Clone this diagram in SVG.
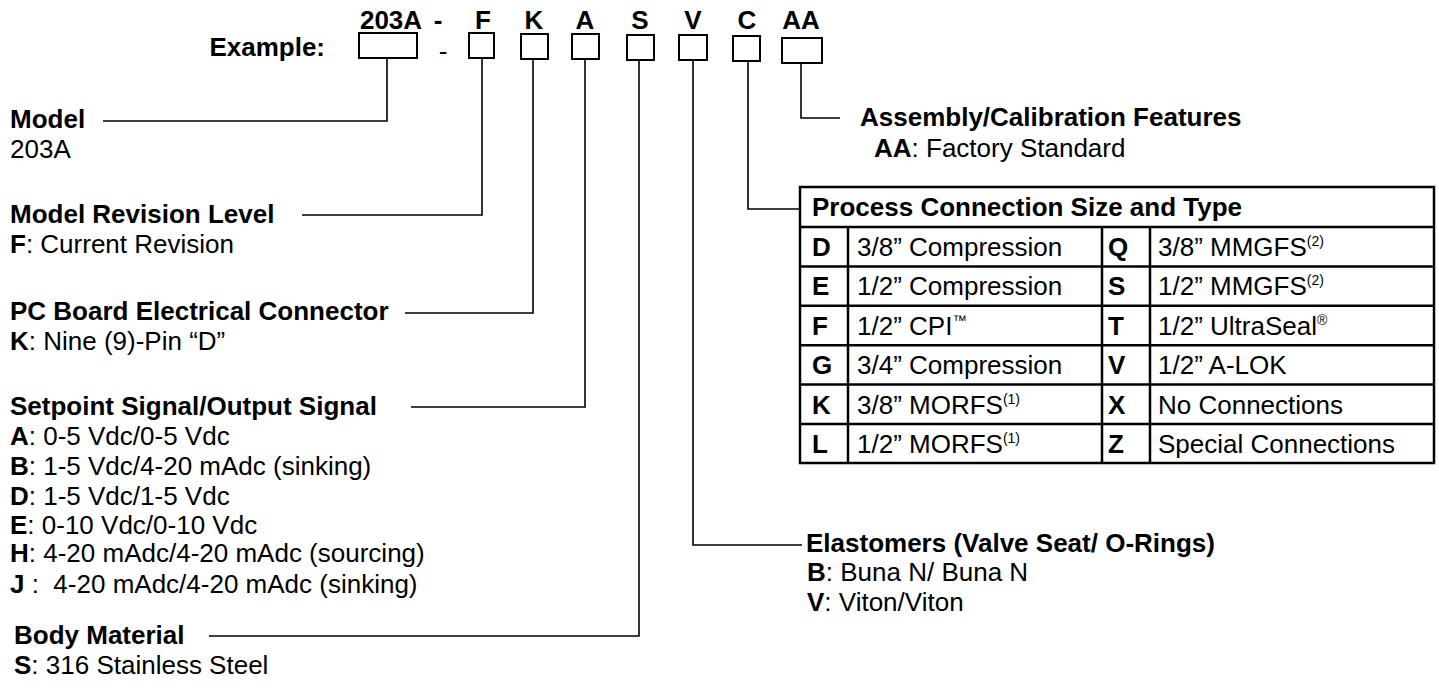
<svg xmlns="http://www.w3.org/2000/svg" width="1439" height="694" viewBox="0 0 1439 694">
<style>
text{font-family:"Liberation Sans",Arial,Helvetica,sans-serif;fill:#000;font-size:26px}
.h{font-weight:bold}
.b{font-weight:bold}
.bx{fill:#fff;stroke:#000;stroke-width:2}
.ln{fill:none;stroke:#000;stroke-width:1.6}
.tb{fill:none;stroke:#000;stroke-width:2.5}
.sup{font-size:14px}
</style>
<rect width="1439" height="694" fill="#fff"/>
<g id="header">
<text class="h" x="391" y="29" text-anchor="middle">203A</text>
<text class="h" x="438" y="29" text-anchor="middle">-</text>
<text class="h" x="483" y="29" text-anchor="middle">F</text>
<text class="h" x="534" y="29" text-anchor="middle">K</text>
<text class="h" x="585" y="29" text-anchor="middle">A</text>
<text class="h" x="640" y="29" text-anchor="middle">S</text>
<text class="h" x="693" y="29" text-anchor="middle">V</text>
<text class="h" x="747" y="29" text-anchor="middle">C</text>
<text class="h" x="801" y="29" text-anchor="middle">AA</text>
<text class="h" x="325" y="56" text-anchor="end">Example:</text>
<text x="443" y="60" text-anchor="middle">-</text>
<rect class="bx" x="359" y="33" width="58" height="25"/>
<rect class="bx" x="469" y="33" width="25" height="25"/>
<rect class="bx" x="521" y="34" width="27" height="25"/>
<rect class="bx" x="572" y="34" width="27" height="25"/>
<rect class="bx" x="627" y="35" width="27" height="25"/>
<rect class="bx" x="679" y="35" width="28" height="25"/>
<rect class="bx" x="733" y="36" width="27" height="25"/>
<rect class="bx" x="782" y="38" width="40" height="25"/>
</g>
<g id="connectors">
<polyline class="ln" points="103,121 387,121 387,58"/>
<polyline class="ln" points="302,215 482,215 482,58"/>
<polyline class="ln" points="405,313 533,313 533,59"/>
<polyline class="ln" points="411,407 585,407 585,59"/>
<polyline class="ln" points="209,636 639,636 639,60"/>
<polyline class="ln" points="693,60 693,545 802,545"/>
<polyline class="ln" points="748,61 748,209 799,209"/>
<polyline class="ln" points="801,63 801,118 840,118"/>
</g>
<g id="model">
<text class="b" x="10" y="128">Model</text>
<text x="10" y="158">203A</text>
</g>
<g id="revision">
<text class="b" x="10" y="223">Model Revision Level</text>
<text x="10" y="253"><tspan font-weight="bold">F</tspan>: Current Revision</text>
</g>
<g id="pcboard">
<text class="b" x="10" y="320">PC Board Electrical Connector</text>
<text x="10" y="350"><tspan font-weight="bold">K</tspan>: Nine (9)-Pin “D”</text>
</g>
<g id="signal">
<text class="b" x="10" y="415">Setpoint Signal/Output Signal</text>
<text x="10" y="445"><tspan font-weight="bold">A</tspan>: 0-5 Vdc/0-5 Vdc</text>
<text x="10" y="475"><tspan font-weight="bold">B</tspan>: 1-5 Vdc/4-20 mAdc (sinking)</text>
<text x="10" y="505"><tspan font-weight="bold">D</tspan>: 1-5 Vdc/1-5 Vdc</text>
<text x="10" y="534"><tspan font-weight="bold">E</tspan>: 0-10 Vdc/0-10 Vdc</text>
<text x="10" y="562"><tspan font-weight="bold">H</tspan>: 4-20 mAdc/4-20 mAdc (sourcing)</text>
<text x="10" y="593" xml:space="preserve"><tspan font-weight="bold">J</tspan> :  4-20 mAdc/4-20 mAdc (sinking)</text>
</g>
<g id="body">
<text class="b" x="14" y="644">Body Material</text>
<text x="14" y="674"><tspan font-weight="bold">S</tspan>: 316 Stainless Steel</text>
</g>
<g id="elastomers">
<text class="b" x="806" y="552">Elastomers (Valve Seat/ O-Rings)</text>
<text x="807" y="581"><tspan font-weight="bold">B</tspan>: Buna N/ Buna N</text>
<text x="807" y="611"><tspan font-weight="bold">V</tspan>: Viton/Viton</text>
</g>
<g id="assembly">
<text class="b" x="860" y="126">Assembly/Calibration Features</text>
<text x="874" y="157"><tspan font-weight="bold">AA</tspan>: Factory Standard</text>
</g>
<g id="process-table">
<rect class="tb" x="800" y="187" width="634" height="276"/>
<path class="tb" d="M800 227H1434M800 266.4H1434M800 305.8H1434M800 345.2H1434M800 384.6H1434M800 424H1434M848 227V463M1102 227V463M1150 227V463"/>
<text class="b" x="812" y="216">Process Connection Size and Type</text>
<text class="b" x="812" y="256">D</text><text x="857" y="256">3/8” Compression</text>
<text class="b" x="1108" y="256">Q</text><text x="1158" y="256">3/8” MMGFS<tspan class="sup" dy="-10">(2)</tspan></text>
<text class="b" x="812" y="295">E</text><text x="857" y="295">1/2” Compression</text>
<text class="b" x="1108" y="295">S</text><text x="1158" y="295">1/2” MMGFS<tspan class="sup" dy="-10">(2)</tspan></text>
<text class="b" x="812" y="335">F</text><text x="857" y="335">1/2” CPI<tspan class="sup" dy="-10">™</tspan></text>
<text class="b" x="1108" y="335">T</text><text x="1158" y="335">1/2” UltraSeal<tspan class="sup" dy="-10">®</tspan></text>
<text class="b" x="812" y="374">G</text><text x="857" y="374">3/4” Compression</text>
<text class="b" x="1108" y="374">V</text><text x="1158" y="374">1/2” A-LOK</text>
<text class="b" x="812" y="414">K</text><text x="857" y="414">3/8” MORFS<tspan class="sup" dy="-10">(1)</tspan></text>
<text class="b" x="1108" y="414">X</text><text x="1158" y="414">No Connections</text>
<text class="b" x="812" y="453">L</text><text x="857" y="453">1/2” MORFS<tspan class="sup" dy="-10">(1)</tspan></text>
<text class="b" x="1108" y="453">Z</text><text x="1158" y="453">Special Connections</text>
</g>
</svg>
